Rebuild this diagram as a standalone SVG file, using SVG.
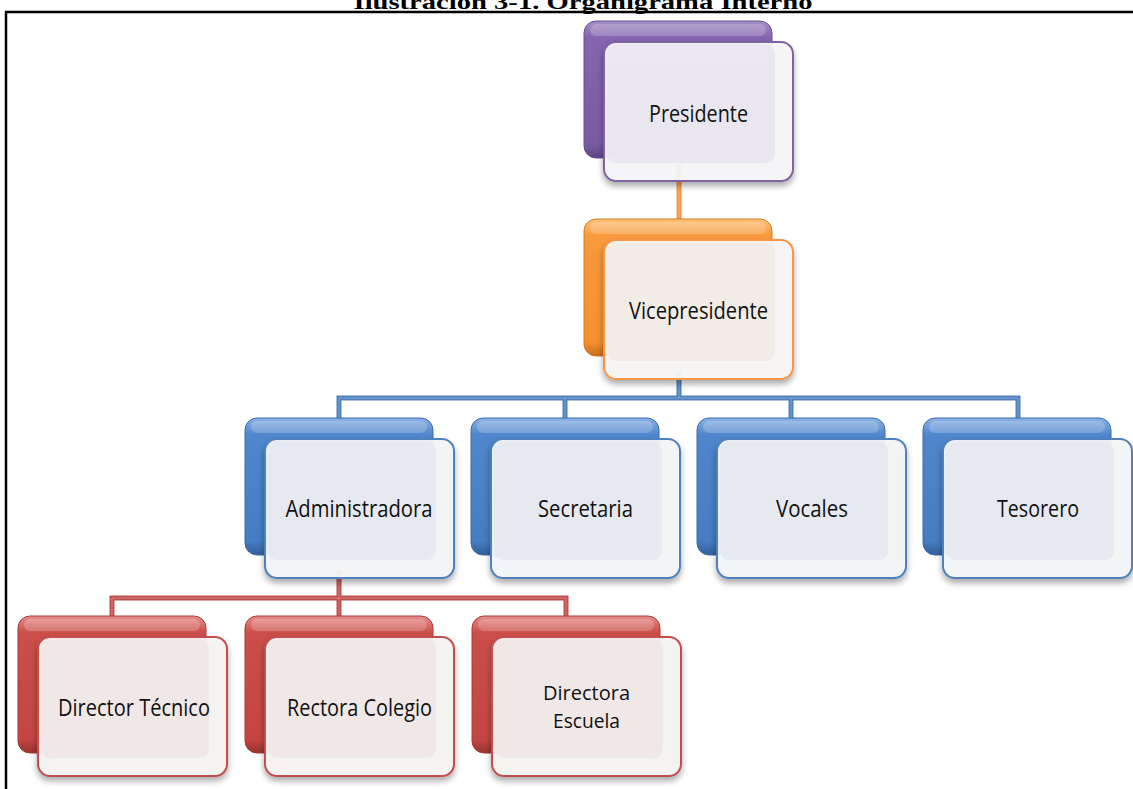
<svg xmlns="http://www.w3.org/2000/svg" width="1133" height="789" viewBox="0 0 1133 789">
<defs>
  <linearGradient id="gPurple" x1="0" y1="0" x2="0" y2="1">
    <stop offset="0" stop-color="#a48fc6"/><stop offset="0.12" stop-color="#8465ae"/><stop offset="0.9" stop-color="#7a5ba3"/><stop offset="1" stop-color="#5f4585"/>
  </linearGradient>
  <linearGradient id="gOrange" x1="0" y1="0" x2="0" y2="1">
    <stop offset="0" stop-color="#ffc27a"/><stop offset="0.12" stop-color="#f99a3c"/><stop offset="0.9" stop-color="#f58f2e"/><stop offset="1" stop-color="#c86e18"/>
  </linearGradient>
  <linearGradient id="gBlue" x1="0" y1="0" x2="0" y2="1">
    <stop offset="0" stop-color="#8db3e6"/><stop offset="0.12" stop-color="#4f86cc"/><stop offset="0.9" stop-color="#467cc2"/><stop offset="1" stop-color="#335f99"/>
  </linearGradient>
  <linearGradient id="gRed" x1="0" y1="0" x2="0" y2="1">
    <stop offset="0" stop-color="#e68e8b"/><stop offset="0.12" stop-color="#cb4e4a"/><stop offset="0.9" stop-color="#c44541"/><stop offset="1" stop-color="#983230"/>
  </linearGradient>
  <filter id="sh" x="-10%" y="-10%" width="120%" height="125%">
    <feGaussianBlur in="SourceAlpha" stdDeviation="3"/>
    <feOffset dx="0" dy="4" result="b"/>
    <feComponentTransfer><feFuncA type="linear" slope="0.35"/></feComponentTransfer>
    <feMerge><feMergeNode/><feMergeNode in="SourceGraphic"/></feMerge>
  </filter>
</defs>
<style>
  .title{font-family:"Liberation Serif",serif;font-weight:bold;font-size:22px;fill:#000;text-anchor:middle}
  .frame{fill:none;stroke:#000;stroke-width:2.5}
  .back{stroke-width:1}
  .hl{fill:#fff;opacity:0.2}
  .front{stroke-width:2;fill-opacity:0.94}
  .frontIn{fill-opacity:0.9}
  .lbl{font-family:"Open Sans","Noto Sans",sans-serif;font-size:23px;fill:#111;text-anchor:middle}
  .lbl2{font-size:20px}
  .c-out{fill:none;stroke-width:5;stroke-linejoin:miter}
  .c-in{fill:none;stroke-width:1;stroke-linejoin:miter;opacity:0.6}
  .purple .back{fill:url(#gPurple);stroke:#6a4e91}
  .purple .front{fill:#f6f5f8;stroke:#8064a2}
  .purple .frontIn{fill:#e9e6ef}
  .orange .back{fill:url(#gOrange);stroke:#d37a23}
  .orange .front{fill:#f8f6f4;stroke:#f79646}
  .orange .frontIn{fill:#f1ebe6}
  .blue .back{fill:url(#gBlue);stroke:#3b6aa8}
  .blue .front{fill:#f4f5f7;stroke:#4f81bd}
  .blue .frontIn{fill:#e6e9ef}
  .red .back{fill:url(#gRed);stroke:#a53c39}
  .red .front{fill:#f6f3f3;stroke:#c0504d}
  .red .frontIn{fill:#efe7e7}
</style>

<text class="title" x="583" y="9" textLength="459" lengthAdjust="spacingAndGlyphs">Ilustración 3-1.  Organigrama Interno</text>
<path class="frame" d="M6 789 V12 H1133"/>

<g id="connectors">
  <path class="c-out" stroke="#f79646" d="M679 150 V230"/>
  <path class="c-in" stroke="#fbc08a" d="M679 150 V230"/>
  <path class="c-out" stroke="#4f81bd" d="M679 370 V398 M339 425 V398 H1018 V425 M565 398 V425 M791 398 V425"/>
  <path class="c-in" stroke="#9dbbe3" d="M679 370 V398 M339 425 V398 H1018 V425 M565 398 V425 M791 398 V425"/>
  <path class="c-out" stroke="#c0504d" d="M339 570 V598 M112 625 V598 H566 V625 M339 598 V625"/>
  <path class="c-in" stroke="#e39c9a" d="M339 570 V598 M112 625 V598 H566 V625 M339 598 V625"/>
</g>

<g id="presidente" class="purple" transform="translate(584,21)">
  <rect class="back" x="0" y="0" width="188" height="137" rx="12"/>
  <rect class="hl" x="6" y="3" width="176" height="12" rx="6"/>
  <g filter="url(#sh)">
    <rect class="front" x="20" y="21" width="189" height="139" rx="12"/>
    <rect class="frontIn" x="23" y="24" width="168" height="118" rx="9"/>
  </g>
  <text class="lbl" x="114.5" y="101" textLength="99" lengthAdjust="spacingAndGlyphs">Presidente</text>
</g>

<g id="vicepresidente" class="orange" transform="translate(584,219)">
  <rect class="back" x="0" y="0" width="188" height="137" rx="12"/>
  <rect class="hl" x="6" y="3" width="176" height="12" rx="6"/>
  <g filter="url(#sh)">
    <rect class="front" x="20" y="21" width="189" height="139" rx="12"/>
    <rect class="frontIn" x="23" y="24" width="168" height="118" rx="9"/>
  </g>
  <text class="lbl" x="114.5" y="100" textLength="139" lengthAdjust="spacingAndGlyphs">Vicepresidente</text>
</g>

<g id="administradora" class="blue" transform="translate(245,418)">
  <rect class="back" x="0" y="0" width="188" height="137" rx="12"/>
  <rect class="hl" x="6" y="3" width="176" height="12" rx="6"/>
  <g filter="url(#sh)">
    <rect class="front" x="20" y="21" width="189" height="139" rx="12"/>
    <rect class="frontIn" x="23" y="24" width="168" height="118" rx="9"/>
  </g>
  <text class="lbl" x="114" y="99" textLength="147" lengthAdjust="spacingAndGlyphs">Administradora</text>
</g>

<g id="secretaria" class="blue" transform="translate(471,418)">
  <rect class="back" x="0" y="0" width="188" height="137" rx="12"/>
  <rect class="hl" x="6" y="3" width="176" height="12" rx="6"/>
  <g filter="url(#sh)">
    <rect class="front" x="20" y="21" width="189" height="139" rx="12"/>
    <rect class="frontIn" x="23" y="24" width="168" height="118" rx="9"/>
  </g>
  <text class="lbl" x="114.5" y="99" textLength="95" lengthAdjust="spacingAndGlyphs">Secretaria</text>
</g>

<g id="vocales" class="blue" transform="translate(697,418)">
  <rect class="back" x="0" y="0" width="188" height="137" rx="12"/>
  <rect class="hl" x="6" y="3" width="176" height="12" rx="6"/>
  <g filter="url(#sh)">
    <rect class="front" x="20" y="21" width="189" height="139" rx="12"/>
    <rect class="frontIn" x="23" y="24" width="168" height="118" rx="9"/>
  </g>
  <text class="lbl" x="115" y="99" textLength="72" lengthAdjust="spacingAndGlyphs">Vocales</text>
</g>

<g id="tesorero" class="blue" transform="translate(923,418)">
  <rect class="back" x="0" y="0" width="188" height="137" rx="12"/>
  <rect class="hl" x="6" y="3" width="176" height="12" rx="6"/>
  <g filter="url(#sh)">
    <rect class="front" x="20" y="21" width="189" height="139" rx="12"/>
    <rect class="frontIn" x="23" y="24" width="168" height="118" rx="9"/>
  </g>
  <text class="lbl" x="115" y="99" textLength="82" lengthAdjust="spacingAndGlyphs">Tesorero</text>
</g>

<g id="director-tecnico" class="red" transform="translate(18,616)">
  <rect class="back" x="0" y="0" width="188" height="137" rx="12"/>
  <rect class="hl" x="6" y="3" width="176" height="12" rx="6"/>
  <g filter="url(#sh)">
    <rect class="front" x="20" y="21" width="189" height="139" rx="12"/>
    <rect class="frontIn" x="23" y="24" width="168" height="118" rx="9"/>
  </g>
  <text class="lbl" x="116" y="100" textLength="152" lengthAdjust="spacingAndGlyphs">Director Técnico</text>
</g>

<g id="rectora-colegio" class="red" transform="translate(245,616)">
  <rect class="back" x="0" y="0" width="188" height="137" rx="12"/>
  <rect class="hl" x="6" y="3" width="176" height="12" rx="6"/>
  <g filter="url(#sh)">
    <rect class="front" x="20" y="21" width="189" height="139" rx="12"/>
    <rect class="frontIn" x="23" y="24" width="168" height="118" rx="9"/>
  </g>
  <text class="lbl" x="114.5" y="100" textLength="145" lengthAdjust="spacingAndGlyphs">Rectora Colegio</text>
</g>

<g id="directora-escuela" class="red" transform="translate(472,616)">
  <rect class="back" x="0" y="0" width="188" height="137" rx="12"/>
  <rect class="hl" x="6" y="3" width="176" height="12" rx="6"/>
  <g filter="url(#sh)">
    <rect class="front" x="20" y="21" width="189" height="139" rx="12"/>
    <rect class="frontIn" x="23" y="24" width="168" height="118" rx="9"/>
  </g>
  <text class="lbl lbl2" x="114.5" y="84" textLength="87" lengthAdjust="spacingAndGlyphs">Directora</text>
  <text class="lbl lbl2" x="114.5" y="112" textLength="67" lengthAdjust="spacingAndGlyphs">Escuela</text>
</g>
</svg>
